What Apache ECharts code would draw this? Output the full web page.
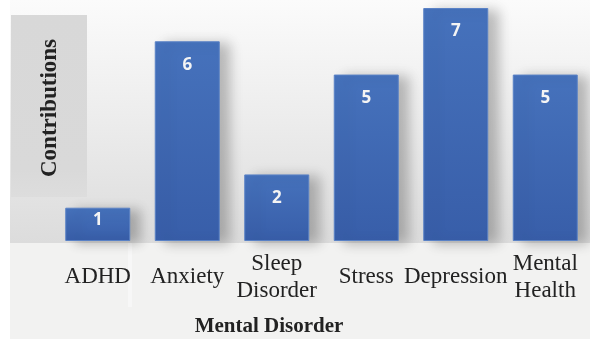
<!DOCTYPE html>
<html><head><meta charset="utf-8">
<script src="https://cdn.jsdelivr.net/npm/echarts@6/dist/echarts.min.js"></script>
<style>html,body{margin:0;padding:0;background:#fff}#c{width:590px;height:339px}</style>
</head><body><div id="c"></div>
<script>
const categories = ['ADHD', 'Anxiety', 'Sleep\nDisorder', 'Stress', 'Depression', 'Mental\nHealth'];
const values = [1, 6, 2, 5, 7, 5];
const xTitle = 'Mental Disorder';
const yTitle = 'Contributions';

const chart = echarts.init(document.getElementById('c'), null, {renderer: 'canvas'});
const seriesData = values.map(v => v < 2 ? {value: v, label: {distance: 4}} : v);
chart.setOption({
  animation: false,
  backgroundColor: '#ffffff',
  grid: {left: 53, top: 8, width: 540, height: 233, containLabel: false},
  graphic: [
    {type: 'rect', z: -10, silent: true, shape: {x: 10, y: 0, width: 580, height: 243},
     style: {fill: new echarts.graphic.LinearGradient(0, 0, 0, 1, [
       {offset: 0, color: '#fbfbfb'}, {offset: 0.5, color: '#ececec'}, {offset: 1, color: '#dcdcdc'}])}},
    {type: 'rect', z: -10, silent: true, shape: {x: 10, y: 243, width: 580, height: 96},
     style: {fill: '#f2f2f1'}},
    {type: 'rect', z: -9, silent: true, shape: {x: 128, y: 243, width: 4, height: 64},
     style: {fill: '#f7f7f7'}},
    {type: 'rect', z: -9, silent: true, shape: {x: 11, y: 15, width: 76, height: 182},
     style: {fill: new echarts.graphic.LinearGradient(0, 0, 0, 1, [
       {offset: 0, color: '#d8d8d8'}, {offset: 0.85, color: '#d9d9d9'}, {offset: 1, color: '#dddddd'}])}},
    {type: 'text', z: 5, x: 50, y: 108, rotation: Math.PI / 2,
     style: {text: yTitle, font: 'bold 23px "Liberation Serif", serif', fill: '#222222', align: 'center', verticalAlign: 'middle'}},
    {type: 'text', z: 5, x: 269, y: 327,
     style: {text: xTitle, font: 'bold 21px "Liberation Serif", serif', fill: '#222222', align: 'center', verticalAlign: 'middle'}}
  ],
  xAxis: {
    type: 'category', data: categories,
    axisLine: {show: false}, axisTick: {show: false}, splitLine: {show: false},
    axisLabel: {interval: 0, margin: 36, verticalAlign: 'middle', lineHeight: 27,
      fontSize: 23, fontFamily: '"Liberation Serif", serif', color: '#222222'}
  },
  yAxis: {type: 'value', min: 0, max: 7, show: false, splitLine: {show: false}},
  series: [{
    type: 'bar', data: seriesData, barWidth: 65,
    itemStyle: {
      color: new echarts.graphic.LinearGradient(0, 0, 0, 1, [
        {offset: 0, color: '#4672bc'}, {offset: 1, color: '#385ea9'}]),
      borderColor: '#5a82c6', borderWidth: 1,
      shadowColor: 'rgba(0,0,0,0.25)', shadowBlur: 12, shadowOffsetX: 10, shadowOffsetY: 2
    },
    label: {show: true, position: 'insideTop', distance: 15, color: '#f4f4f4',
      fontSize: 17, fontWeight: 'bold', fontFamily: '"Open Sans", sans-serif'}
  }]
});
</script></body></html>
